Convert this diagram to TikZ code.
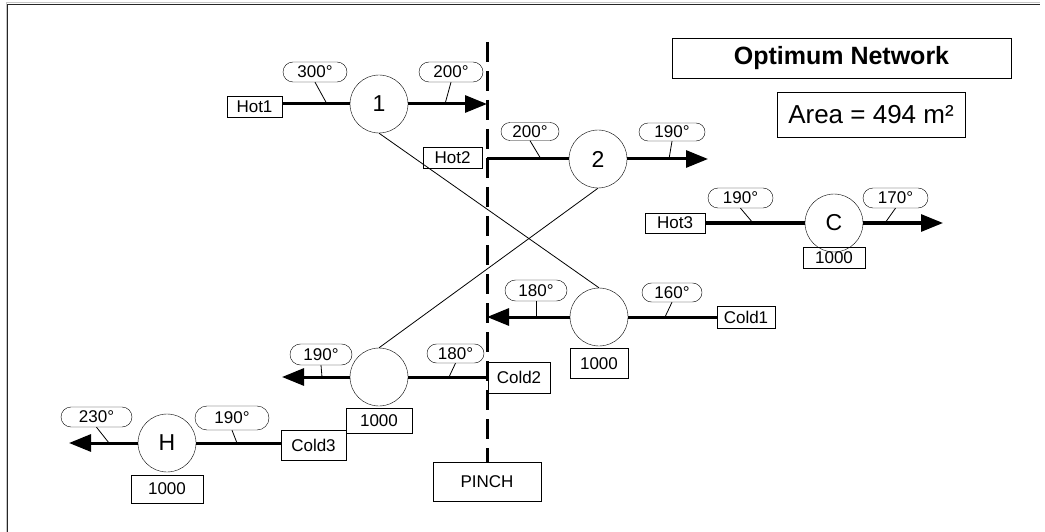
\documentclass[tikz,border=0pt]{standalone}
\usepackage{fontspec}
\setmainfont{Liberation Sans}
\usetikzlibrary{arrows.meta,shapes.misc}
\begin{document}
\begin{tikzpicture}[x=1pt,y=-1pt,
  tag/.style={draw,rectangle,inner sep=0pt,font=\fontsize{17}{19}\selectfont},
  pill/.style={draw,rounded rectangle,inner sep=0pt,minimum width=64pt,minimum height=20pt,font=\fontsize{17}{19}\selectfont},
  hx/.style={draw,circle,inner sep=0pt,minimum size=58pt,font=\fontsize{23}{25}\selectfont},
  stream/.style={line width=3pt},
  flow/.style={line width=3pt,-{Triangle[length=22pt,width=17pt]}},
  leader/.style={line width=0.8pt},
  pinchline/.style={line width=3pt,dash pattern=on 20pt off 9pt}]
\useasboundingbox (0,0) rectangle (1045,532);
% frame
\draw[gray!45,line width=1pt] (6,532) -- (6,3) -- (1040,3);
\draw[black!85,line width=1.3pt] (7.6,532) -- (7.6,4.6) -- (1040,4.6);
% title boxes
\node[draw,rectangle,minimum width=339pt,minimum height=40pt,font=\fontsize{25}{27}\selectfont\bfseries] (title) at (841.5,58) {Optimum Network};
\node[draw,rectangle,minimum width=188pt,minimum height=45pt,font=\fontsize{26}{28}\selectfont] (area) at (871,114.5) {Area = 494 m²};
% pinch
\node[tag,minimum width=108pt,minimum height=39pt] (pinch) at (487,481.5) {PINCH};
\coordinate (ptop) at (487,42);
\draw[pinchline] (ptop) -- (pinch.north);
% Hot1
\node[tag,minimum width=55pt,minimum height=21pt] (hot1) at (254.5,106.5) {Hot1};
\node[hx] (n1) at (379,104) {1};
\coordinate (h1end) at (487,104);
\draw[stream] (hot1.east |- n1) -- (n1.west);
\draw[flow] (n1.east) -- (h1end);
\node[pill] (l300) at (315,72) {300°};
\node[pill] (l200a) at (451,72) {200°};
\coordinate (q1) at (327,104);
\coordinate (q2) at (445,104);
\draw[leader] (l300.south) -- (q1);
\draw[leader] (l200a.south) -- (q2);
% Hot2
\node[tag,minimum width=59pt,minimum height=21pt] (hot2) at (452.5,157.5) {Hot2};
\node[hx] (n2) at (598,159) {2};
\coordinate (h2start) at (487,159);
\coordinate (h2end) at (708,159);
\draw[stream] (h2start) -- (n2.west);
\draw[flow] (n2.east) -- (h2end);
\node[pill,minimum width=58pt,minimum height=18pt] (l200b) at (530,131.5) {200°};
\node[pill,minimum width=66pt,minimum height=18pt] (l190a) at (672,132) {190°};
\coordinate (q3) at (541,159);
\coordinate (q4) at (669,159);
\draw[leader] (l200b.south) -- (q3);
\draw[leader] (l190a.south) -- (q4);
% Hot3
\node[tag,minimum width=60pt,minimum height=20pt] (hot3) at (675,223) {Hot3};
\node[hx] (nc) at (834,223) {C};
\coordinate (h3end) at (943,223);
\draw[stream] (hot3.east) -- (nc.west);
\draw[flow] (nc.east) -- (h3end);
\node[pill,minimum width=65pt] (l190b) at (740.5,198) {190°};
\node[pill,minimum width=65pt] (l170) at (895.5,198) {170°};
\coordinate (q5) at (753,223);
\coordinate (q6) at (885,223);
\draw[leader] (l190b.south) -- (q5);
\draw[leader] (l170.south) -- (q6);
\node[tag,minimum width=62pt,minimum height=21pt] (dc) at (834,257.5) {1000};
% Cold1
\node[tag,minimum width=58pt,minimum height=22pt] (cold1) at (746,317) {Cold1};
\node[hx] (k1) at (599,317) {};
\coordinate (c1end) at (487,317);
\draw[stream] (cold1.west) -- (k1.east);
\draw[flow] (k1.west) -- (c1end);
\node[pill,minimum width=62pt,minimum height=21pt] (l180a) at (536,290.5) {180°};
\node[pill,minimum width=60pt,minimum height=19pt] (l160) at (672,292.5) {160°};
\coordinate (q7) at (536,317);
\coordinate (q8) at (665,317);
\draw[leader] (l180a.south) -- (q7);
\draw[leader] (l160.south) -- (q8);
\node[tag,minimum width=58pt,minimum height=30pt] (d1) at (599,363.5) {1000};
% Cold2
\node[tag,minimum width=62pt,minimum height=31pt] (cold2) at (519,377.5) {Cold2};
\node[hx] (k2) at (379,377) {};
\coordinate (c2end) at (282,377);
\draw[stream] (cold2.west |- k2) -- (k2.east);
\draw[flow] (k2.west) -- (c2end);
\node[pill,minimum width=62pt,minimum height=21pt] (l190c) at (321,354.5) {190°};
\node[pill,minimum width=57pt,minimum height=19pt] (l180b) at (455.5,353.5) {180°};
\coordinate (q9) at (322,377);
\coordinate (q10) at (449,377);
\draw[leader] (l190c.south) -- (q9);
\draw[leader] (l180b.south) -- (q10);
\node[tag,minimum width=66pt,minimum height=25pt] (d2) at (379,420.5) {1000};
% Cold3
\node[tag,minimum width=65pt,minimum height=30pt] (cold3) at (313.5,445) {Cold3};
\node[hx] (nh) at (167,443) {H};
\coordinate (c3end) at (69,443);
\draw[stream] (cold3.west |- nh) -- (nh.east);
\draw[flow] (nh.west) -- (c3end);
\node[pill,minimum width=71pt,minimum height=20pt] (l230) at (96.5,417) {230°};
\node[pill,minimum width=74pt,minimum height=24pt] (l190d) at (232,418) {190°};
\coordinate (q11) at (109,443);
\coordinate (q12) at (237,443);
\draw[leader] (l230.south) -- (q11);
\draw[leader] (l190d.south) -- (q12);
\node[tag,minimum width=72pt,minimum height=28pt] (d3) at (167,489) {1000};
% exchanger matches
\draw[leader] (n1.south) -- (k1.north);
\draw[leader] (n2.south) -- (k2.north);
\end{tikzpicture}
\end{document}
